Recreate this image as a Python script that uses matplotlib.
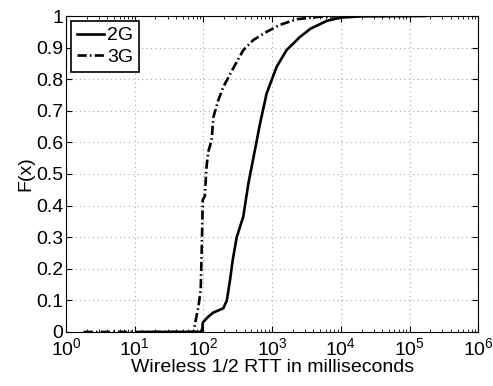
import matplotlib
matplotlib.use("Agg")
import matplotlib.pyplot as plt
import numpy as np

plt.rcParams["font.family"] = ["Liberation Sans", "DejaVu Sans"]

# CDF points (x in milliseconds)
rtt_2g = [12.6, 95, 98, 117, 138, 195, 219, 244, 267, 305, 380, 451, 562, 667,
          832, 1167, 1622, 2547, 3630, 6310, 10000, 20000, 166000]
cdf_2g = [0.0, 0.0, 0.03, 0.048, 0.061, 0.075, 0.10, 0.165, 0.228, 0.30, 0.365,
          0.47, 0.576, 0.66, 0.755, 0.84, 0.892, 0.934, 0.96, 0.985, 0.995, 0.999, 1.0]

rtt_3g = [1.8, 72, 75.5, 84.5, 91.2, 94.4, 97.7, 104.7, 110.9, 117.5, 131.8, 139.6,
          164.8, 195, 272, 380, 532, 832, 1303, 2291, 5012, 12600]
cdf_3g = [0.0, 0.0, 0.027, 0.08, 0.134, 0.26, 0.418, 0.43, 0.523, 0.57, 0.608, 0.68,
          0.734, 0.776, 0.835, 0.892, 0.924, 0.95, 0.972, 0.99, 0.998, 1.0]

fig = plt.figure(figsize=(4.93, 3.86), dpi=100)
ax = fig.add_axes([0.134, 0.14, 0.836, 0.8185])

ax.plot(rtt_2g, cdf_2g, color="black", linewidth=1.9, label="2G")
ax.plot(rtt_3g, cdf_3g, color="black", linewidth=1.9,
        linestyle=(0, (3.5, 1.2, 0.6, 1.2)), label="3G")

ax.set_xscale("log")
ax.set_xlim(1, 1e6)
ax.set_ylim(0, 1)
ax.set_xticks([1, 10, 100, 1e3, 1e4, 1e5, 1e6])
ax.set_yticks(np.arange(0, 1.01, 0.1))
ax.set_yticklabels(["0", "0.1", "0.2", "0.3", "0.4", "0.5", "0.6", "0.7", "0.8", "0.9", "1"])
ax.grid(True, which="major", linestyle=(0, (1, 3)), color="#aaaaaa", linewidth=0.8)
ax.tick_params(which="both", direction="in", top=True, right=True, labelsize=14)
ax.tick_params(which="major", length=4, pad=2)
ax.tick_params(axis="x", which="major", pad=4)
ax.tick_params(which="minor", length=2)
for s in ax.spines.values():
    s.set_linewidth(0.8)

ax.set_xlabel("Wireless 1/2 RTT in milliseconds", fontsize=14, labelpad=0)
ax.set_ylabel("F(x)", fontsize=14, labelpad=1)

leg = ax.legend(loc="upper left", fontsize=14, fancybox=False, edgecolor="black",
                framealpha=1, handlelength=1.4, handletextpad=0.15,
                borderpad=0.3, labelspacing=0.2, borderaxespad=0.25)
leg.get_frame().set_linewidth(1.2)

fig.savefig("out.png", dpi=100)
